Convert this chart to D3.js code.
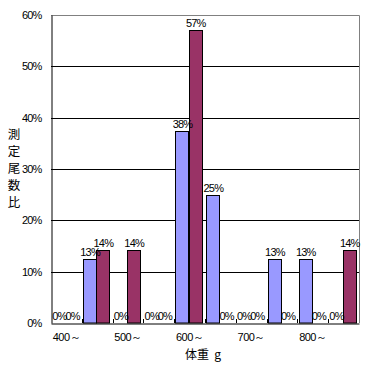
<!DOCTYPE html>
<html><head><meta charset="utf-8">
<script src="https://cdn.jsdelivr.net/npm/d3@7"></script>
<style>body{margin:0;background:#fff}svg{display:block}</style>
</head><body>
<script>
const categories = ["400～","450～","500～","550～","600～","650～","700～","750～","800～","850～"];
const xTickLabels = ["400～","","500～","","600～","","700～","","800～",""];
const seriesA = [0, 0.125, 0, 0, 0.375, 0.25, 0, 0.125, 0.125, 0];
const seriesB = [0, 0.143, 0.143, 0, 0.571, 0, 0, 0, 0, 0.143];
const yTicks = [0, 0.1, 0.2, 0.3, 0.4, 0.5, 0.6];
const colors = ["#9999FF", "#993366"];
const yTitle = "測定尾数比";
const xTitle = "体重 g";

const W = 367, H = 367;
const L = 51, R = 359, T = 15, B = 323;
const svg = d3.select("body").append("svg").attr("width", W).attr("height", H);
const font = "'Liberation Sans', Arial, sans-serif";

const x = d3.scaleBand().domain(categories).range([L, R]).padding(0);
const y = d3.scaleLinear().domain([0, 0.6]).range([B, T]);
const fmt = d3.format(".0%");

// gridlines
svg.append("g").selectAll("line").data(yTicks.filter(d => d > 0 && d < 0.6)).join("line")
  .attr("x1", L).attr("x2", R).attr("y1", d => Math.round(y(d)) + 0.5).attr("y2", d => Math.round(y(d)) + 0.5)
  .attr("stroke", "#000");
// plot border top/right
svg.append("path").attr("d", `M${L},${T + 0.5}H${R + 0.5}V${B}`).attr("fill", "none").attr("stroke", "#808080");

// bars
const series = [seriesA, seriesB];
const bw = x.bandwidth() * 0.43;
const off = 1.2;
const bars = [];
series.forEach((s, si) => s.forEach((v, i) => bars.push({ si, i, v, cat: categories[i] })));
svg.append("g").selectAll("rect").data(bars.filter(d => d.v > 0)).join("rect")
  .attr("x", d => Math.round(x(d.cat) + off + d.si * bw) + 0.5)
  .attr("width", Math.round(bw))
  .attr("y", d => Math.round(y(d.v)) + 0.5)
  .attr("height", d => B - Math.round(y(d.v)) - 0.5)
  .attr("fill", d => colors[d.si]).attr("stroke", "#000");

// value labels
svg.append("g").selectAll("text").data(bars).join("text")
  .attr("x", d => x(d.cat) + off + d.si * bw + bw / 2 + 0.5)
  .attr("y", d => y(d.v) - 3)
  .attr("text-anchor", "middle").attr("font-family", font).attr("font-size", 11)
  .attr("letter-spacing", "-0.8px")
  .text(d => fmt(d.v));

// y axis
const ya = d3.axisLeft(y).tickValues(yTicks).tickFormat(fmt).tickSize(0).tickPadding(10);
const yg = svg.append("g").attr("transform", `translate(${L + 0.5},0)`).call(ya);
yg.select(".domain").attr("stroke", "#000");
yg.selectAll("text").attr("font-family", font).attr("font-size", 11).attr("letter-spacing", "-0.8px").attr("fill", "#000");

// x axis
const xa = d3.axisBottom(x).tickSize(0).tickFormat((d, i) => xTickLabels[i]).tickPadding(10);
const xg = svg.append("g").attr("transform", `translate(0,${B + 0.5})`).call(xa);
xg.select(".domain").attr("stroke", "#000");
xg.selectAll("text").attr("font-family", font).attr("font-size", 11).attr("letter-spacing", "-0.5px").attr("fill", "#000");
// category boundary ticks (pointing up)
svg.append("g").selectAll("line").data(categories.slice(1)).join("line")
  .attr("x1", d => Math.round(x(d)) + 0.5).attr("x2", d => Math.round(x(d)) + 0.5)
  .attr("y1", B).attr("y2", B - 4).attr("stroke", "#000");

// titles
svg.append("text").attr("x", 203).attr("y", 359).attr("text-anchor", "middle")
  .attr("font-family", "'Noto Sans CJK JP', sans-serif").attr("font-size", 12)
  .style("white-space", "pre").text(xTitle.replace(" ", "  "));
svg.append("text").attr("x", 14).attr("y", 128)
  .attr("writing-mode", "vertical-rl").style("writing-mode", "vertical-rl")
  .attr("font-family", "'Noto Sans CJK JP', sans-serif").attr("font-size", 12.5)
  .attr("letter-spacing", "4.5px").text(yTitle);
</script>
</body></html>
